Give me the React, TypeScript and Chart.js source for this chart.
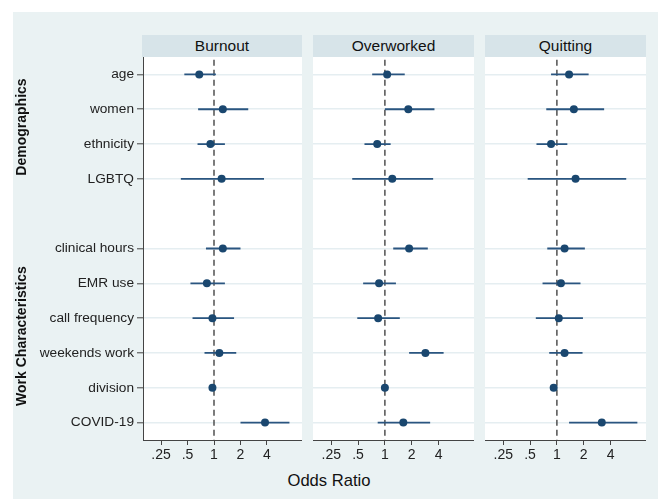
import React, { useEffect, useRef } from "react";
import { Chart, registerables } from "chart.js";
Chart.register(...registerables);

const variables = ["age", "women", "ethnicity", "LGBTQ", "clinical hours", "EMR use", "call frequency", "weekends work", "division", "COVID-19"];
const rowPositions = [0, 1, 2, 3, 5, 6, 7, 8, 9, 10];
const panelTitles = ["Burnout", "Overworked", "Quitting"];
const xTicks = [0.25, 0.5, 1, 2, 4];
const xTickLabels = [".25", ".5", "1", "2", "4"];
const groupLabels = ["Demographics", "Work Characteristics"];
const xTitle = "Odds Ratio";

const burnoutOR = [0.68, 1.26, 0.91, 1.22, 1.26, 0.83, 0.96, 1.15, 0.96, 3.8];
const burnoutLo = [0.46, 0.66, 0.65, 0.42, 0.81, 0.54, 0.57, 0.78, 0.95, 2.0];
const burnoutHi = [1.05, 2.45, 1.33, 3.7, 2.0, 1.33, 1.69, 1.79, 0.97, 7.2];

const overworkedOR = [1.06, 1.83, 0.82, 1.21, 1.87, 0.86, 0.84, 2.85, 1.0, 1.61];
const overworkedLo = [0.72, 1.0, 0.59, 0.43, 1.24, 0.57, 0.49, 1.87, 0.99, 0.83];
const overworkedHi = [1.67, 3.6, 1.16, 3.48, 3.03, 1.33, 1.47, 4.56, 1.01, 3.22];

const quittingOR = [1.37, 1.55, 0.86, 1.62, 1.22, 1.11, 1.05, 1.22, 0.92, 3.19];
const quittingLo = [0.86, 0.76, 0.59, 0.47, 0.78, 0.69, 0.58, 0.82, 0.91, 1.37];
const quittingHi = [2.27, 3.39, 1.31, 6.0, 2.06, 1.84, 1.96, 1.94, 0.93, 8.0];

const FONT = "'Liberation Sans', Arial, Helvetica, sans-serif";
const NAVY = "#1a476f";

type PanelProps = { left: number; width: number; or: number[]; lo: number[]; hi: number[]; showY: boolean };

function zeroPad(s: any) {
  s.paddingTop = 0;
  s.paddingBottom = 0;
  s.paddingLeft = 0;
  s.paddingRight = 0;
}

function Panel({ left, width, or, lo, hi, showY }: PanelProps) {
  const ref = useRef<HTMLCanvasElement>(null);
  useEffect(() => {
    const ciData: { x: number; y: number }[] = [];
    rowPositions.forEach((y, i) => {
      ciData.push({ x: lo[i], y }, { x: hi[i], y }, { x: NaN, y: NaN });
    });
    const chart = new Chart(ref.current as HTMLCanvasElement, {
      type: "scatter",
      data: {
        datasets: [
          {
            data: or.map((x, i) => ({ x, y: rowPositions[i] })),
            pointRadius: 4,
            pointBackgroundColor: NAVY,
            pointBorderColor: NAVY,
            pointBorderWidth: 0,
            showLine: false,
            order: 0,
          } as any,
          {
            data: ciData,
            showLine: true,
            spanGaps: false,
            borderColor: "#2a5580",
            borderWidth: 1.8,
            pointRadius: 0,
            order: 1,
          },
          {
            data: [{ x: 1, y: -0.42 }, { x: 1, y: 10.5 }],
            showLine: true,
            borderColor: "#444444",
            borderWidth: 1.4,
            borderDash: [6, 4],
            pointRadius: 0,
            order: 2,
          },
        ],
      },
      options: {
        animation: false,
        responsive: false,
        maintainAspectRatio: false,
        layout: { padding: 0, autoPadding: false },
        plugins: { legend: { display: false }, tooltip: { enabled: false } },
        scales: {
          x: {
            type: "logarithmic",
            min: 0.156,
            max: 10,
            afterBuildTicks: (s: any) => {
              s.ticks = xTicks.map((v) => ({ value: v }));
            },
            afterFit: (s: any) => {
              s.height = 30;
              zeroPad(s);
            },
            grid: { drawOnChartArea: false, tickLength: 5, tickColor: "#444", tickWidth: 1 },
            border: { color: "#444", width: 1 },
            ticks: {
              callback: (v: any) => {
                const idx = xTicks.findIndex((t) => Math.abs(t - Number(v)) < 1e-9);
                return idx >= 0 ? xTickLabels[idx] : "";
              },
              color: "#222",
              font: { family: FONT, size: 14 },
              maxRotation: 0,
              autoSkip: false,
              padding: 2,
            },
          },
          y: {
            type: "linear",
            min: -0.5,
            max: 10.5,
            reverse: true,
            afterBuildTicks: (s: any) => {
              s.ticks = rowPositions.map((v) => ({ value: v }));
            },
            afterFit: (s: any) => {
              s.width = showY ? 130 : 0;
              zeroPad(s);
            },
            grid: { color: "#e5eef1", lineWidth: 1.6, drawTicks: showY, tickLength: 6, tickColor: "#444", tickWidth: 1 },
            border: { display: showY, color: "#444", width: 1 },
            ticks: {
              display: showY,
              callback: (v: any) => {
                const idx = rowPositions.indexOf(Number(v));
                return idx >= 0 ? variables[idx] : "";
              },
              color: "#222",
              font: { family: FONT, size: 13.7 },
              padding: 3,
              autoSkip: false,
            },
          },
        },
      },
    });
    return () => chart.destroy();
  }, []);
  return (
    <canvas
      ref={ref}
      width={width}
      height={413}
      style={{ position: "absolute", left, top: 57, width, height: 413 }}
    />
  );
}

const panels = [
  { plotLeft: 143, plotRight: 302 },
  { plotLeft: 313, plotRight: 474 },
  { plotLeft: 485, plotRight: 646 },
];

export default function App() {
  return (
    <div style={{ position: "fixed", left: 0, top: 0, width: 658, height: 499, background: "#ffffff", overflow: "hidden", fontFamily: FONT }}>
      <div style={{ position: "absolute", left: 13, top: 12, width: 645, height: 487, background: "#eaf2f3" }} />
      {panels.map((p, i) => (
        <React.Fragment key={i}>
          <div
            style={{
              position: "absolute",
              left: p.plotLeft - (i === 0 ? 1 : 0),
              top: 35,
              width: p.plotRight - p.plotLeft + (i === 0 ? 1 : 0),
              height: 22,
              background: "#d7e4e9",
              color: "#111",
              fontSize: 15.5,
              lineHeight: "22px",
              textAlign: "center",
            }}
          >
            {panelTitles[i]}
          </div>
          <div style={{ position: "absolute", left: p.plotLeft, top: 57, width: p.plotRight - p.plotLeft, height: 383, background: "#ffffff" }} />
        </React.Fragment>
      ))}
      <Panel left={13} width={289} or={burnoutOR} lo={burnoutLo} hi={burnoutHi} showY={true} />
      <Panel left={313} width={161} or={overworkedOR} lo={overworkedLo} hi={overworkedHi} showY={false} />
      <Panel left={485} width={161} or={quittingOR} lo={quittingLo} hi={quittingHi} showY={false} />
      {[126.5, 336].map((cy, i) => (
        <div
          key={i}
          style={{
            position: "absolute",
            left: 21 - 100,
            top: cy - 10,
            width: 200,
            height: 20,
            lineHeight: "20px",
            textAlign: "center",
            fontWeight: "bold",
            fontSize: 14,
            color: "#111",
            transform: "rotate(-90deg)",
            transformOrigin: "50% 50%",
          }}
        >
          {groupLabels[i]}
        </div>
      ))}
      <div style={{ position: "absolute", left: 229, top: 470, width: 200, height: 22, lineHeight: "22px", textAlign: "center", fontSize: 16.6, color: "#111" }}>
        {xTitle}
      </div>
    </div>
  );
}
